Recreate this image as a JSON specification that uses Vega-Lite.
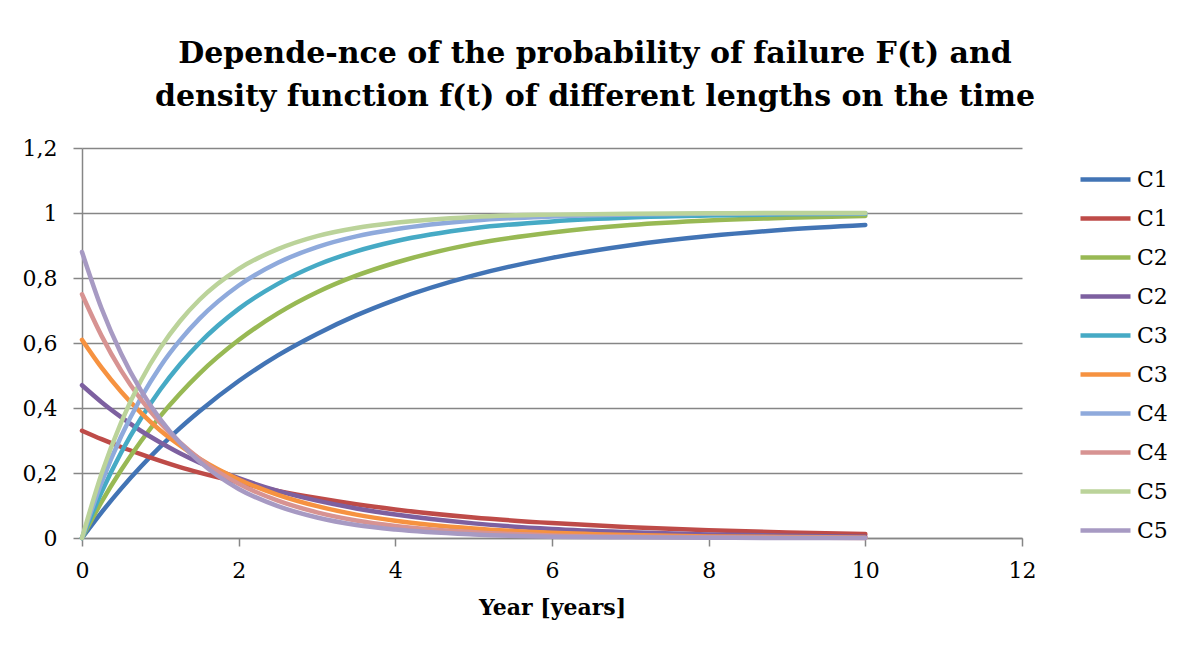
{
  "$schema": "https://vega.github.io/schema/vega-lite/v6.json",
  "width": 940,
  "height": 390,
  "autosize": {"type": "none"},
  "padding": {"left": 82, "top": 148, "right": 172, "bottom": 115},
  "background": "white",
  "title": {
    "text": ["Depende-nce of the probability of failure F(t) and", "density function f(t) of different lengths on the time"],
    "font": "DejaVu Serif",
    "fontWeight": "bold",
    "fontSize": 30,
    "lineHeight": 43,
    "color": "#000000",
    "anchor": "middle",
    "frame": "bounds",
    "offset": 25
  },
  "data": {
    "values": [
      {"t": 0, "C1 F": 0, "C1 f": 0.33, "C2 F": 0, "C2 f": 0.47, "C3 F": 0, "C3 f": 0.61, "C4 F": 0, "C4 f": 0.75, "C5 F": 0, "C5 f": 0.88},
      {"t": 0.25, "C1 F": 0.079, "C1 f": 0.304, "C2 F": 0.111, "C2 f": 0.418, "C3 F": 0.141, "C3 f": 0.524, "C4 F": 0.171, "C4 f": 0.622, "C5 F": 0.198, "C5 f": 0.706},
      {"t": 0.5, "C1 F": 0.152, "C1 f": 0.28, "C2 F": 0.209, "C2 f": 0.372, "C3 F": 0.263, "C3 f": 0.45, "C4 F": 0.313, "C4 f": 0.515, "C5 F": 0.356, "C5 f": 0.567},
      {"t": 0.75, "C1 F": 0.219, "C1 f": 0.258, "C2 F": 0.297, "C2 f": 0.33, "C3 F": 0.367, "C3 f": 0.386, "C4 F": 0.43, "C4 f": 0.427, "C5 F": 0.483, "C5 f": 0.455},
      {"t": 1, "C1 F": 0.281, "C1 f": 0.237, "C2 F": 0.375, "C2 f": 0.294, "C3 F": 0.457, "C3 f": 0.331, "C4 F": 0.528, "C4 f": 0.354, "C5 F": 0.585, "C5 f": 0.365},
      {"t": 1.25, "C1 F": 0.338, "C1 f": 0.218, "C2 F": 0.444, "C2 f": 0.261, "C3 F": 0.534, "C3 f": 0.285, "C4 F": 0.608, "C4 f": 0.294, "C5 F": 0.667, "C5 f": 0.293},
      {"t": 1.5, "C1 F": 0.39, "C1 f": 0.201, "C2 F": 0.506, "C2 f": 0.232, "C3 F": 0.6, "C3 f": 0.244, "C4 F": 0.675, "C4 f": 0.244, "C5 F": 0.733, "C5 f": 0.235},
      {"t": 2, "C1 F": 0.483, "C1 f": 0.171, "C2 F": 0.609, "C2 f": 0.184, "C3 F": 0.705, "C3 f": 0.18, "C4 F": 0.777, "C4 f": 0.167, "C5 F": 0.828, "C5 f": 0.151},
      {"t": 2.5, "C1 F": 0.562, "C1 f": 0.145, "C2 F": 0.691, "C2 f": 0.145, "C3 F": 0.782, "C3 f": 0.133, "C4 F": 0.847, "C4 f": 0.115, "C5 F": 0.889, "C5 f": 0.098},
      {"t": 3, "C1 F": 0.628, "C1 f": 0.123, "C2 F": 0.756, "C2 f": 0.115, "C3 F": 0.84, "C3 f": 0.098, "C4 F": 0.895, "C4 f": 0.079, "C5 F": 0.929, "C5 f": 0.063},
      {"t": 3.5, "C1 F": 0.685, "C1 f": 0.104, "C2 F": 0.807, "C2 f": 0.091, "C3 F": 0.882, "C3 f": 0.072, "C4 F": 0.928, "C4 f": 0.054, "C5 F": 0.954, "C5 f": 0.04},
      {"t": 4, "C1 F": 0.733, "C1 f": 0.088, "C2 F": 0.847, "C2 f": 0.072, "C3 F": 0.913, "C3 f": 0.053, "C4 F": 0.95, "C4 f": 0.037, "C5 F": 0.97, "C5 f": 0.026},
      {"t": 5, "C1 F": 0.808, "C1 f": 0.063, "C2 F": 0.905, "C2 f": 0.045, "C3 F": 0.953, "C3 f": 0.029, "C4 F": 0.977, "C4 f": 0.018, "C5 F": 0.988, "C5 f": 0.011},
      {"t": 6, "C1 F": 0.862, "C1 f": 0.046, "C2 F": 0.94, "C2 f": 0.028, "C3 F": 0.974, "C3 f": 0.016, "C4 F": 0.989, "C4 f": 0.008, "C5 F": 0.995, "C5 f": 0.004},
      {"t": 7, "C1 F": 0.901, "C1 f": 0.033, "C2 F": 0.963, "C2 f": 0.018, "C3 F": 0.986, "C3 f": 0.009, "C4 F": 0.995, "C4 f": 0.004, "C5 F": 0.998, "C5 f": 0.002},
      {"t": 8, "C1 F": 0.929, "C1 f": 0.024, "C2 F": 0.977, "C2 f": 0.011, "C3 F": 0.992, "C3 f": 0.005, "C4 F": 0.998, "C4 f": 0.002, "C5 F": 0.999, "C5 f": 0.001},
      {"t": 9, "C1 F": 0.949, "C1 f": 0.017, "C2 F": 0.985, "C2 f": 0.007, "C3 F": 0.996, "C3 f": 0.003, "C4 F": 0.999, "C4 f": 0.001, "C5 F": 1.0, "C5 f": 0.0},
      {"t": 10, "C1 F": 0.963, "C1 f": 0.012, "C2 F": 0.991, "C2 f": 0.004, "C3 F": 0.998, "C3 f": 0.001, "C4 F": 0.999, "C4 f": 0.0, "C5 F": 1.0, "C5 f": 0.0}
    ]
  },
  "transform": [
    {"fold": ["C1 F", "C1 f", "C2 F", "C2 f", "C3 F", "C3 f", "C4 F", "C4 f", "C5 F", "C5 f"], "as": ["series", "value"]}
  ],
  "mark": {"type": "line", "strokeWidth": 4.5, "strokeCap": "round", "strokeJoin": "round", "interpolate": "monotone"},
  "encoding": {
    "x": {
      "field": "t",
      "type": "quantitative",
      "scale": {"domain": [0, 12], "nice": false},
      "axis": {
        "values": [0, 2, 4, 6, 8, 10, 12],
        "title": "Year [years]",
        "titleFont": "DejaVu Serif",
        "titleFontWeight": "bold",
        "titleFontSize": 22,
        "titleColor": "#000000",
        "titlePadding": 16,
        "labelFont": "DejaVu Serif",
        "labelFontSize": 22,
        "labelColor": "#000000",
        "labelPadding": 14,
        "labelFlush": false,
        "grid": false,
        "domainColor": "#868686",
        "domainWidth": 1.5,
        "tickColor": "#868686",
        "tickWidth": 1.5,
        "tickSize": 8
      }
    },
    "y": {
      "field": "value",
      "type": "quantitative",
      "scale": {"domain": [0, 1.2], "nice": false},
      "axis": {
        "values": [0, 0.2, 0.4, 0.6, 0.8, 1, 1.2],
        "labelExpr": "replace(format(datum.value, '~g'), '.', ',')",
        "title": null,
        "labelFont": "DejaVu Serif",
        "labelFontSize": 22,
        "labelColor": "#000000",
        "labelPadding": 16,
        "labelFlush": false,
        "grid": true,
        "gridColor": "#868686",
        "gridWidth": 1.5,
        "domainColor": "#868686",
        "domainWidth": 1.5,
        "tickColor": "#868686",
        "tickWidth": 1.5,
        "tickSize": 9
      }
    },
    "color": {
      "field": "series",
      "type": "nominal",
      "sort": ["C1 F", "C1 f", "C2 F", "C2 f", "C3 F", "C3 f", "C4 F", "C4 f", "C5 F", "C5 f"],
      "scale": {
        "domain": ["C1 F", "C1 f", "C2 F", "C2 f", "C3 F", "C3 f", "C4 F", "C4 f", "C5 F", "C5 f"],
        "range": ["#4274B5", "#BE4B48", "#98B954", "#7D60A0", "#46AAC5", "#F69240", "#8FAADC", "#D79392", "#BBD39A", "#A79AC3"]
      },
      "legend": {
        "title": null,
        "orient": "none",
        "legendX": 996,
        "legendY": 4,
        "symbolType": "stroke",
        "symbolSize": 2500,
        "symbolStrokeWidth": 4.5,
        "labelExpr": "split(datum.label, ' ')[0]",
        "labelFont": "DejaVu Serif",
        "labelFontSize": 22,
        "labelColor": "#000000",
        "labelOffset": 4,
        "rowPadding": -1.15
      }
    }
  },
  "config": {
    "view": {"stroke": null}
  }
}
